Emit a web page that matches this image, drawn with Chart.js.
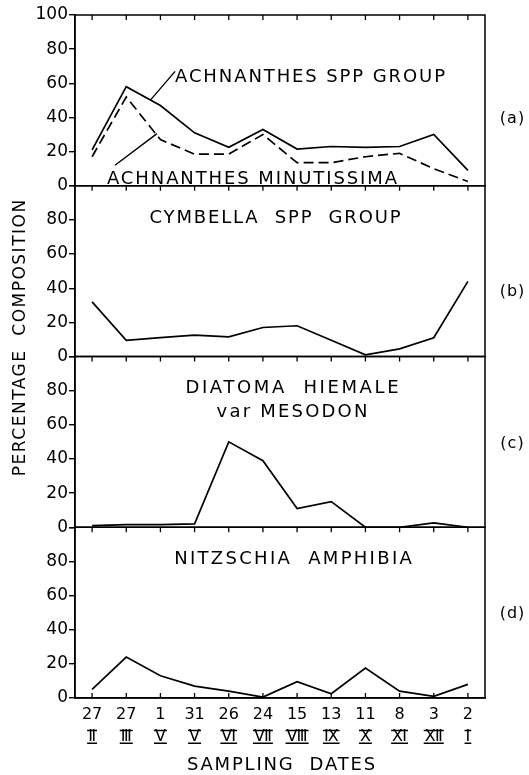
<!DOCTYPE html>
<html>
<head>
<meta charset="utf-8">
<script src="https://cdn.jsdelivr.net/npm/chart.js@4.4.1/dist/chart.umd.min.js"></script>
<style>
  html, body { margin: 0; padding: 0; background: #fff; }
  #wrap { width: 529px; height: 775px; }
</style>
</head>
<body>
<div id="wrap"><canvas id="chart"></canvas></div>
<script>
// sampling dates: day + month (roman)
const sampleDays = ['27', '27', '1', '31', '26', '24', '15', '13', '11', '8', '3', '2'];
const sampleMonths = ['Ⅱ', 'Ⅲ', 'Ⅴ', 'Ⅴ', 'Ⅵ', 'Ⅶ', 'Ⅷ', 'Ⅸ', 'Ⅹ', 'Ⅺ', 'Ⅻ', 'Ⅰ'];
const yTicks = [0, 20, 40, 60, 80, 100];

// percentage composition per panel
const achnanthesGroup = [21, 58, 47, 31, 22.5, 33, 21.5, 23, 22.5, 23, 30, 9];
const achnanthesMinut = [17, 52, 27, 18.5, 18.5, 30, 13.5, 13.5, 17, 19, 10, 2.5];
const cymbellaGroup = [32, 9.5, 11, 12.5, 11.5, 17, 18, 9.5, 1, 4.5, 11, 44];
const diatomaHiemale = [1, 1.5, 1.5, 2, 50, 39, 11, 15, 0, 0, 2.5, 0];
const nitzschiaAmph = [5, 24, 13, 7, 4, 0.5, 9.5, 2.5, 17.5, 4, 1, 8];

const labels = sampleDays.map((d, i) => [d, sampleMonths[i]]);
const FONT = '"DejaVu Sans"';
const X_FONT_SIZE = 16, X_LINE = 1.375;

function panelAxis(weight, showTop) {
    return {
        type: 'linear', position: 'left', stack: 'panels', stackWeight: 1, weight: weight,
        min: 0, max: 100,
        afterBuildTicks: axis => { axis.ticks = yTicks.map(v => ({ value: v })); },
        afterFit: axis => { axis.width = 75; },
        ticks: {
            color: '#000', padding: 1, autoSkip: false,
            font: { family: FONT, size: 17 },
            callback: v => (v === 100 && !showTop) ? '' : v
        },
        grid: { drawOnChartArea: false, drawTicks: true, tickLength: 6, color: '#000', lineWidth: 1.4 },
        border: { display: true, color: '#000', width: 1.5 }
    };
}

function lineSet(data, axisId, dash) {
    return {
        data: data, yAxisID: axisId, xAxisID: 'x',
        borderColor: '#000', borderWidth: 1.7, borderDash: dash || [],
        pointRadius: 0, tension: 0, fill: false
    };
}

// write text centred on its cap height
function capText(ctx, txt, x, y, size, spacing) {
    ctx.font = size + 'px ' + FONT;
    ctx.letterSpacing = spacing + 'px';
    ctx.fillText(txt, x + spacing / 2, y + size * 0.729 / 2);
}

const framePlugin = {
    id: 'frames',
    afterDraw(chart) {
        const ctx = chart.ctx, ca = chart.chartArea, xs = chart.scales.x;
        const panels = ['ya', 'yb', 'yc', 'yd'].map(id => chart.scales[id]);
        ctx.save();
        ctx.strokeStyle = '#000';
        ctx.lineWidth = 1.5;
        panels.forEach(s => ctx.strokeRect(ca.left, s.top, ca.right - ca.left, s.bottom - s.top));

        // little date ticks on every horizontal frame line
        ctx.lineWidth = 1.3;
        ctx.beginPath();
        sampleDays.forEach((d, i) => {
            const px = xs.getPixelForValue(i);
            panels.forEach(s => { ctx.moveTo(px, s.top); ctx.lineTo(px, s.top + 5); });
            ctx.moveTo(px, ca.bottom); ctx.lineTo(px, ca.bottom - 5);
        });
        ctx.stroke();

        // bars over and under the roman month numerals
        ctx.font = X_FONT_SIZE + 'px ' + FONT;
        ctx.letterSpacing = '0px';
        const lh = X_FONT_SIZE * X_LINE;
        const romanMid = ca.bottom + 6 + lh * 1.5;
        ctx.lineWidth = 1.6;
        ctx.beginPath();
        sampleMonths.forEach((m, i) => {
            const px = xs.getPixelForValue(i);
            const w = ctx.measureText(m).width + 2;
            [romanMid - 6.5, romanMid + 6.3].forEach(by => {
                ctx.moveTo(px - w / 2, by); ctx.lineTo(px + w / 2, by);
            });
        });
        ctx.stroke();

        // leader lines of panel (a)
        const ya = chart.scales.ya;
        ctx.lineWidth = 1.4;
        ctx.beginPath();
        ctx.moveTo(xs.getPixelForValue(2.43), ya.getPixelForValue(67));
        ctx.lineTo(xs.getPixelForValue(1.7), ya.getPixelForValue(50));
        ctx.moveTo(xs.getPixelForValue(0.67), ya.getPixelForValue(12));
        ctx.lineTo(xs.getPixelForValue(1.9), ya.getPixelForValue(30.5));
        ctx.stroke();

        ctx.fillStyle = '#000';
        ctx.textAlign = 'center';
        ctx.textBaseline = 'alphabetic';
        capText(ctx, 'ACHNANTHES SPP GROUP', 310, 75, 18, 1.9);
        capText(ctx, 'ACHNANTHES MINUTISSIMA', 252, 177, 18, 1.9);
        capText(ctx, 'CYMBELLA  SPP  GROUP', 275, 216, 18, 1.85);
        capText(ctx, 'DIATOMA  HIEMALE', 292, 386, 18, 2.6);
        capText(ctx, 'var MESODON', 292, 410, 18, 2.2);
        capText(ctx, 'NITZSCHIA  AMPHIBIA', 293, 557, 18, 2.3);
        capText(ctx, 'SAMPLING  DATES', 281, 763, 18, 1.8);

        ['(a)', '(b)', '(c)', '(d)'].forEach((t, i) => {
            const lv = [40, 39, 50, 50][i];
            capText(ctx, t, 512, panels[i].getPixelForValue(lv), 16, 1);
        });

        ctx.translate(19, 338);
        ctx.rotate(-Math.PI / 2);
        capText(ctx, 'PERCENTAGE  COMPOSITION', 0, 0, 17, 1.5);
        ctx.restore();
    }
};

new Chart(document.getElementById('chart'), {
    type: 'line',
    data: {
        labels: labels,
        datasets: [
            lineSet(achnanthesGroup, 'ya'),
            lineSet(achnanthesMinut, 'ya', [10, 5]),
            lineSet(cymbellaGroup, 'yb'),
            lineSet(diatomaHiemale, 'yc'),
            lineSet(nitzschiaAmph, 'yd')
        ]
    },
    options: {
        responsive: true,
        maintainAspectRatio: false,
        animation: false,
        layout: { padding: { top: 15, right: 44, left: 0, bottom: 0 } },
        plugins: { legend: { display: false }, tooltip: { enabled: false } },
        scales: {
            x: {
                type: 'category', offset: true,
                afterFit: axis => { axis.height = 77; },
                grid: { drawOnChartArea: false, drawTicks: false, color: '#000' },
                border: { display: true, color: '#000', width: 1.5 },
                ticks: {
                    color: '#000', padding: 6, maxRotation: 0, autoSkip: false,
                    font: { family: FONT, size: X_FONT_SIZE, lineHeight: X_LINE }
                }
            },
            ya: panelAxis(4, true),
            yb: panelAxis(3, false),
            yc: panelAxis(2, false),
            yd: panelAxis(1, false)
        }
    },
    plugins: [framePlugin]
});
</script>
</body>
</html>
